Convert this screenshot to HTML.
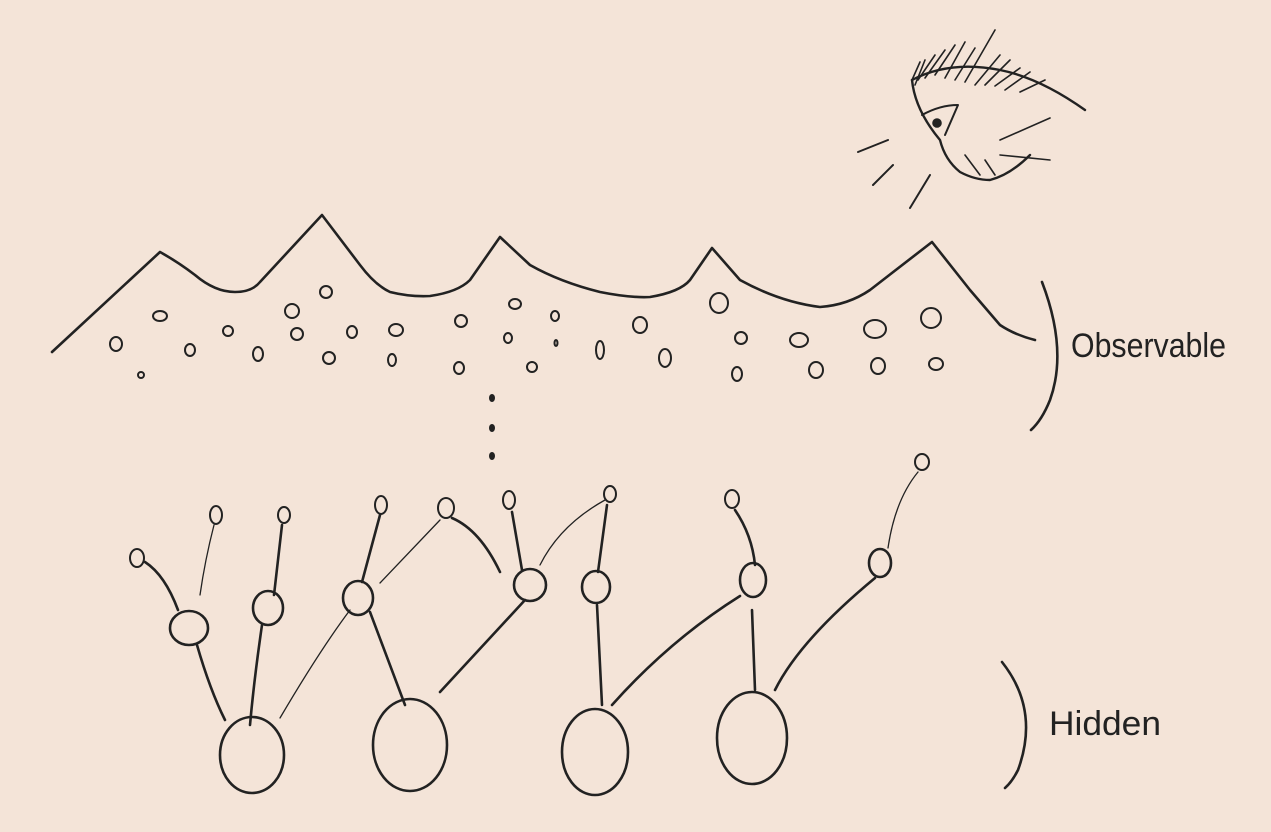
<!DOCTYPE html>
<html><head><meta charset="utf-8"><style>
html,body{margin:0;padding:0;background:#f4e4d8;}
svg{display:block}
text{font-family:"Liberation Sans",sans-serif;fill:#222;}
</style></head><body>
<svg width="1271" height="832" viewBox="0 0 1271 832">
<rect width="1271" height="832" fill="#f4e4d8"/>
<g fill="none" stroke="#222" stroke-width="2.6" stroke-linecap="round" stroke-linejoin="round">
<path d="M52,352 L160,252 Q178,262 195,275 Q215,292 235,292 Q252,292 260,282 L322,215 L360,265 Q375,285 390,292 Q410,297 430,296 Q458,292 470,280 L500,237 L530,265 Q560,282 600,292 Q630,298 650,297 Q680,292 690,280 L712,248 L740,280 Q780,302 820,307 Q848,305 870,290 L932,242 L970,290 L1000,325 Q1015,335 1035,340"/>
<path d="M1042,282 Q1068,350 1050,400 Q1042,420 1031,430"/>
<path d="M1002,662 Q1040,710 1018,770 Q1012,782 1005,788"/>
<g stroke-width="2">
<ellipse cx="116" cy="344" rx="6" ry="7"/><ellipse cx="141" cy="375" rx="3" ry="3"/><ellipse cx="160" cy="316" rx="7" ry="5"/><ellipse cx="190" cy="350" rx="5" ry="6"/>
<ellipse cx="228" cy="331" rx="5" ry="5"/><ellipse cx="258" cy="354" rx="5" ry="7"/><ellipse cx="292" cy="311" rx="7" ry="7"/><ellipse cx="297" cy="334" rx="6" ry="6"/>
<ellipse cx="326" cy="292" rx="6" ry="6"/><ellipse cx="329" cy="358" rx="6" ry="6"/><ellipse cx="352" cy="332" rx="5" ry="6"/><ellipse cx="392" cy="360" rx="4" ry="6"/>
<ellipse cx="396" cy="330" rx="7" ry="6"/><ellipse cx="459" cy="368" rx="5" ry="6"/><ellipse cx="461" cy="321" rx="6" ry="6"/><ellipse cx="515" cy="304" rx="6" ry="5"/>
<ellipse cx="508" cy="338" rx="4" ry="5"/><ellipse cx="532" cy="367" rx="5" ry="5"/><ellipse cx="555" cy="316" rx="4" ry="5"/><ellipse cx="556" cy="343" rx="1.5" ry="3"/>
<ellipse cx="600" cy="350" rx="4" ry="9"/><ellipse cx="640" cy="325" rx="7" ry="8"/><ellipse cx="665" cy="358" rx="6" ry="9"/><ellipse cx="719" cy="303" rx="9" ry="10"/>
<ellipse cx="741" cy="338" rx="6" ry="6"/><ellipse cx="737" cy="374" rx="5" ry="7"/><ellipse cx="799" cy="340" rx="9" ry="7"/><ellipse cx="816" cy="370" rx="7" ry="8"/>
<ellipse cx="875" cy="329" rx="11" ry="9"/><ellipse cx="931" cy="318" rx="10" ry="10"/><ellipse cx="878" cy="366" rx="7" ry="8"/><ellipse cx="936" cy="364" rx="7" ry="6"/>
</g>
<g fill="#222" stroke="none">
<ellipse cx="492" cy="398" rx="3" ry="4"/><ellipse cx="492" cy="428" rx="3" ry="4"/><ellipse cx="492" cy="456" rx="3" ry="4"/>
</g>
<g>
<path d="M145,562 Q165,575 178,610"/><path stroke-width="1.3" d="M214,525 Q205,560 200,595"/>
<path d="M282,525 L274,595"/><path d="M197,645 Q210,690 225,720"/><path d="M262,625 Q254,680 250,725"/>
<path stroke-width="1.3" d="M280,718 Q320,650 350,610"/><path d="M380,515 L362,582"/><path stroke-width="1.3" d="M440,520 L380,583"/>
<path d="M452,518 Q480,530 500,572"/><path d="M512,512 L522,570"/><path d="M370,612 Q390,665 405,705"/>
<path d="M525,600 L440,692"/><path stroke-width="1.3" d="M605,500 Q560,525 540,565"/><path d="M607,505 L598,572"/>
<path d="M597,605 L602,705"/><path d="M740,596 Q670,640 612,705"/><path d="M735,510 Q752,535 755,565"/>
<path d="M752,610 L755,690"/><path d="M875,578 Q800,640 775,690"/><path stroke-width="1.3" d="M918,472 Q895,500 888,548"/>
</g>
<g>
<ellipse cx="252" cy="755" rx="32" ry="38"/><ellipse cx="410" cy="745" rx="37" ry="46"/>
<ellipse cx="595" cy="752" rx="33" ry="43"/><ellipse cx="752" cy="738" rx="35" ry="46"/>
</g>
<g>
<ellipse cx="189" cy="628" rx="19" ry="17"/><ellipse cx="268" cy="608" rx="15" ry="17"/><ellipse cx="358" cy="598" rx="15" ry="17"/>
<ellipse cx="530" cy="585" rx="16" ry="16"/><ellipse cx="596" cy="587" rx="14" ry="16"/><ellipse cx="753" cy="580" rx="13" ry="17"/>
<ellipse cx="880" cy="563" rx="11" ry="14"/>
</g>
<g stroke-width="2">
<ellipse cx="137" cy="558" rx="7" ry="9"/><ellipse cx="216" cy="515" rx="6" ry="9"/><ellipse cx="284" cy="515" rx="6" ry="8"/>
<ellipse cx="381" cy="505" rx="6" ry="9"/><ellipse cx="446" cy="508" rx="8" ry="10"/><ellipse cx="509" cy="500" rx="6" ry="9"/>
<ellipse cx="610" cy="494" rx="6" ry="8"/><ellipse cx="732" cy="499" rx="7" ry="9"/><ellipse cx="922" cy="462" rx="7" ry="8"/>
</g>
<g stroke-width="1.6">
<path d="M912,80 L920,62 M915,85 L925,60 M918,80 L935,55 M925,78 L945,50 M935,75 L955,45 M945,78 L965,42 M955,80 L975,48 M965,82 L995,30 M975,85 L1000,55 M985,85 L1010,60 M995,86 L1020,68 M1005,90 L1030,72 M1020,92 L1045,80"/>
<path stroke-width="2.4" d="M912,80 Q950,60 1000,70 Q1040,78 1085,110"/>
<path stroke-width="2.4" d="M912,80 Q915,110 940,140 Q945,160 960,172 Q975,180 990,180 Q1010,175 1030,155"/>
<path stroke-width="2" d="M922,115 Q940,105 958,105 L945,135"/>
<path d="M965,155 L980,175 M985,160 L995,175 M1000,140 L1050,118 M1000,155 L1050,160"/>
<ellipse cx="937" cy="123" rx="4" ry="4" fill="#222"/>
<path stroke-width="2" d="M858,152 L888,140 M873,185 L893,165 M910,208 L930,175"/>
</g>
</g>
<text x="1071" y="357" font-size="34" textLength="155" lengthAdjust="spacingAndGlyphs">Observable</text>
<text x="1049" y="735" font-size="34" textLength="112" lengthAdjust="spacingAndGlyphs">Hidden</text>
</svg>
</body></html>
